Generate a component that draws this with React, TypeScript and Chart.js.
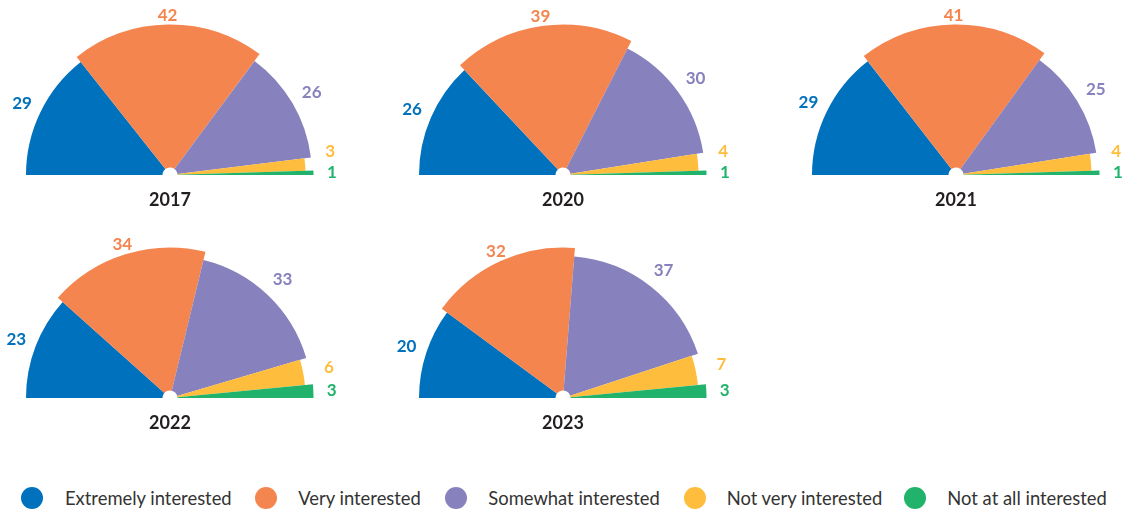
import React, { useEffect, useRef } from "react";
import { Chart, registerables } from "chart.js";

Chart.register(...registerables);

// ---------- data ----------
const categories = [
  "Extremely interested",
  "Very interested",
  "Somewhat interested",
  "Not very interested",
  "Not at all interested",
];
const years = ["2017", "2020", "2021", "2022", "2023"];
const values2017 = [29, 42, 26, 3, 1];
const values2020 = [26, 39, 30, 4, 1];
const values2021 = [29, 41, 25, 4, 1];
const values2022 = [23, 34, 33, 6, 3];
const values2023 = [20, 32, 37, 7, 3];
const seriesByYear = [values2017, values2020, values2021, values2022, values2023];

// ---------- styles / layout ----------
const colors = ["#0071BC", "#F5854F", "#8781BD", "#FFBD3D", "#21B36C"];
const sliceRadius = [144, 150.5, 142, 135.5, 143.5];
const holeRadius = 7.5;
const chartCenters: [number, number][] = [
  [170, 175],
  [563, 175],
  [956, 175],
  [170, 398],
  [563, 398],
];
const legendCircleX = [32, 266, 455.5, 694.5, 915.3];
const legendTextX = [65, 298.3, 488.3, 726.7, 947.3];
const FONT = "Lato, 'Noto Sans', 'DejaVu Sans', sans-serif";
const BASE_RADIUS = 150;
const CANVAS_W = 340;
const CANVAS_H = 200;
const CENTER_FROM_TOP = 175;

const radiusPlugin = {
  id: "sliceRadius",
  afterDatasetsUpdate(chart: any) {
    const meta = chart.getDatasetMeta(0);
    meta.data.forEach((arc: any, i: number) => {
      arc.outerRadius = sliceRadius[i];
      arc.innerRadius = holeRadius;
    });
  },
};

const labelPlugin = {
  id: "valueLabels",
  afterDatasetsDraw(chart: any) {
    const ctx = chart.ctx;
    const meta = chart.getDatasetMeta(0);
    const data = chart.data.datasets[0].data as number[];
    ctx.save();
    ctx.font = `bold 17px ${FONT}`;
    ctx.textAlign = "center";
    ctx.textBaseline = "middle";
    const pts = meta.data.map((arc: any, i: number) => {
      const p = arc.getProps(["x", "y", "startAngle", "endAngle"], true);
      const a = (p.startAngle + p.endAngle) / 2;
      const hw = ctx.measureText(String(data[i])).width / 2;
      const d = BASE_RADIUS + 9 + 0.6 * hw * Math.abs(Math.cos(a));
      return { x: p.x + d * Math.cos(a), y: p.y + d * Math.sin(a), d, cx: p.x, cy: p.y, cos: Math.cos(a) };
    });
    for (let i = pts.length - 2; i >= 0; i--) {
      const cur = pts[i];
      const below = pts[i + 1];
      if (cur.cos > 0.5 && below.cos > 0.5 && cur.y > below.y - 21) {
        const ny = below.y - 21;
        const dy = cur.cy - ny;
        cur.y = ny;
        cur.x = cur.cx + Math.sqrt(Math.max(cur.d * cur.d - dy * dy, 0));
      }
    }
    pts.forEach((pt: any, i: number) => {
      ctx.fillStyle = colors[i];
      ctx.fillText(String(data[i]), pt.x, pt.y);
    });
    ctx.restore();
  },
};

function HalfPie({ values, center }: { values: number[]; center: [number, number] }) {
  const ref = useRef<HTMLCanvasElement | null>(null);
  useEffect(() => {
    if (!ref.current) return;
    const chart = new Chart(ref.current, {
      type: "doughnut",
      data: {
        labels: categories,
        datasets: [
          {
            data: values,
            backgroundColor: colors,
            borderWidth: 0,
            radius: BASE_RADIUS,
          } as any,
        ],
      },
      options: {
        responsive: false,
        animation: false,
        events: [],
        rotation: -90,
        circumference: 180,
        cutout: 0,
        layout: { padding: 0 },
        plugins: {
          legend: { display: false },
          tooltip: { enabled: false },
          title: { display: false },
        },
      } as any,
      plugins: [radiusPlugin, labelPlugin],
    });
    return () => chart.destroy();
  }, [values]);
  return (
    <canvas
      ref={ref}
      width={CANVAS_W}
      height={CANVAS_H}
      style={{
        position: "absolute",
        left: center[0] - CANVAS_W / 2,
        top: center[1] - CENTER_FROM_TOP,
        width: CANVAS_W,
        height: CANVAS_H,
      }}
    />
  );
}

export default function App() {
  return (
    <div
      style={{
        position: "absolute",
        left: 0,
        top: 0,
        width: 1126,
        height: 513,
        overflow: "hidden",
        background: "#ffffff",
        fontFamily: FONT,
      }}
    >
      {seriesByYear.map((vals, i) => (
        <HalfPie key={years[i]} values={vals} center={chartCenters[i]} />
      ))}
      {years.map((y, i) => (
        <div
          key={"y" + y}
          style={{
            position: "absolute",
            left: chartCenters[i][0] - 50,
            top: chartCenters[i][1] + 23.5 - 12,
            width: 100,
            height: 24,
            lineHeight: "24px",
            textAlign: "center",
            fontWeight: 700,
            fontSize: 18,
            color: "#231F20",
          }}
        >
          {y}
        </div>
      ))}
      {categories.map((c, i) => (
        <React.Fragment key={c}>
          <div
            style={{
              position: "absolute",
              left: legendCircleX[i] - 11,
              top: 498 - 11,
              width: 22,
              height: 22,
              borderRadius: "50%",
              background: colors[i],
            }}
          />
          <div
            style={{
              position: "absolute",
              left: legendTextX[i],
              top: 498 - 12,
              height: 24,
              lineHeight: "24px",
              fontSize: 18.4,
              color: "#333333",
              whiteSpace: "nowrap",
            }}
          >
            {c}
          </div>
        </React.Fragment>
      ))}
    </div>
  );
}
